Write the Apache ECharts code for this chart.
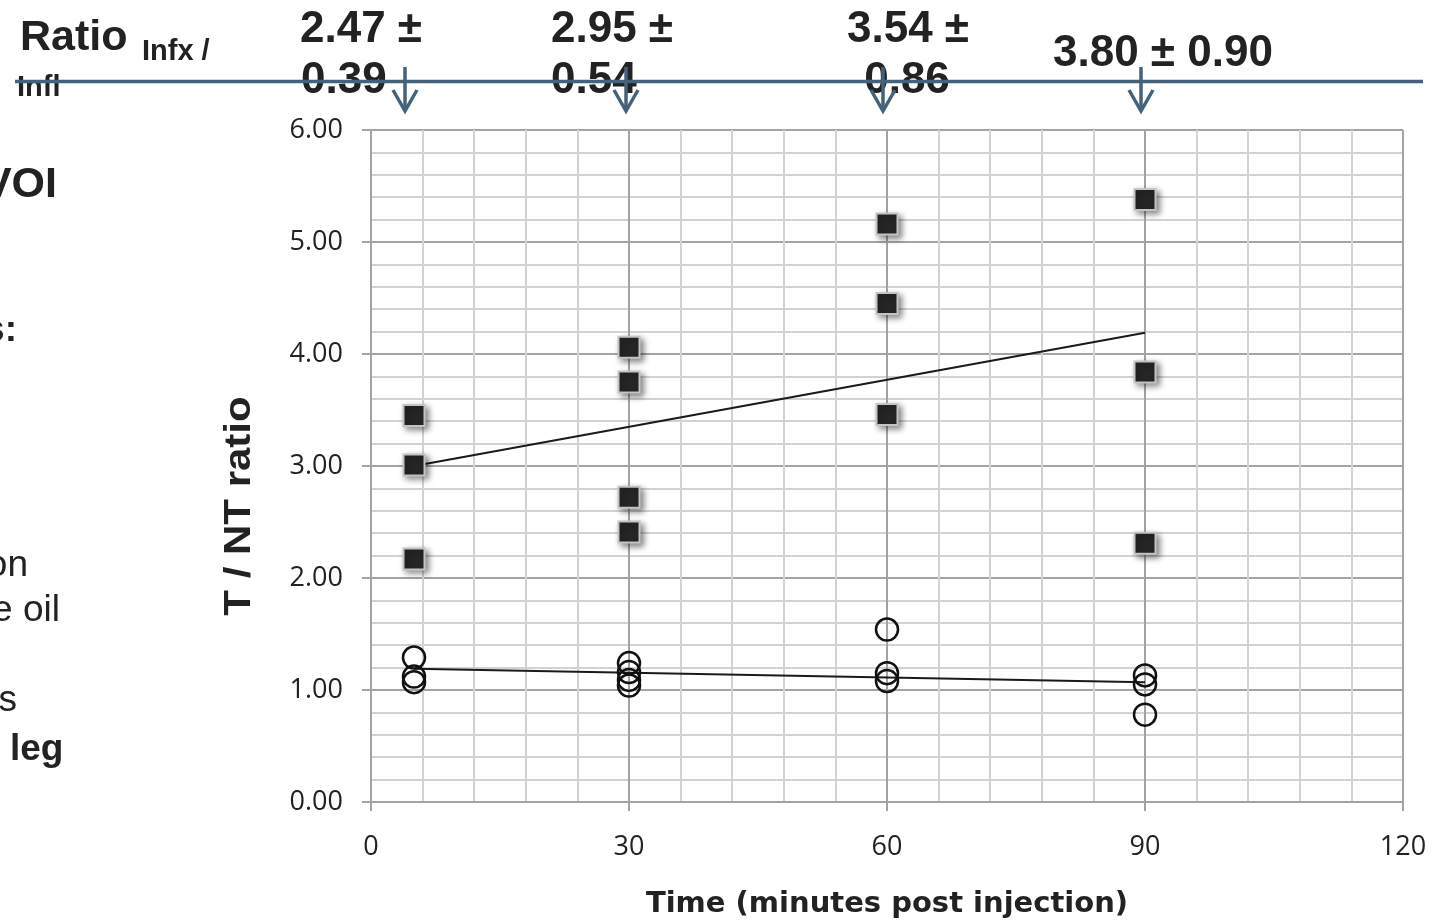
<!DOCTYPE html>
<html>
<head>
<meta charset="utf-8">
<title>T / NT ratio</title>
<script src="https://cdn.jsdelivr.net/npm/echarts@6.0.0/dist/echarts.min.js"></script>
<style>
  html, body { margin: 0; padding: 0; background: #fff; }
  #chart { width: 1434px; height: 924px; }
</style>
</head>
<body>
<div id="chart"></div>
<script>
// infected (filled squares) and inflamed (open circles) muscle, per time point
const infxTime = [5, 5, 5, 30, 30, 30, 30, 60, 60, 60, 90, 90, 90];
const infxRatio = [3.45, 3.01, 2.17, 4.06, 3.75, 2.72, 2.41, 5.16, 4.45, 3.46, 5.38, 3.84, 2.31];
const inflTime = [5, 5, 5, 30, 30, 30, 30, 60, 60, 60, 90, 90, 90];
const inflRatio = [1.29, 1.12, 1.07, 1.24, 1.16, 1.09, 1.04, 1.54, 1.15, 1.08, 1.13, 1.05, 0.78];

// trend lines
const trendTime = [5, 90];
const infxTrend = [3.0, 4.19];
const inflTrend = [1.19, 1.07];

// ratio Infx / Infl shown above the chart
const meanLabels = ['2.47 ±', '2.95 ±', '3.54 ±', '3.80 ± 0.90'];
const sdLabels = ['0.39', '0.54', '0.86'];

const pairs = (xs, ys) => xs.map((x, i) => [x, ys[i]]);

const chart = echarts.init(document.getElementById('chart'));

const slideFont = '"Liberation Sans", Arial, sans-serif';
const axisFont = '"Open Sans", "DejaVu Sans", sans-serif';
const lineCol = '#45627c';

function slideText(text, x, baseline, size, bold, align) {
  return {
    type: 'text', x: x, y: baseline - size * 0.33, z: 10,
    style: {
      text: text, fill: '#222', align: align || 'left', verticalAlign: 'middle',
      font: (bold ? 'bold ' : '') + size + 'px ' + slideFont
    }
  };
}

function arrow(x) {
  return [
    { type: 'line', z: 20, shape: { x1: x, y1: 67, x2: x, y2: 111 },
      style: { stroke: lineCol, lineWidth: 3.5 } },
    { type: 'polyline', z: 20, shape: { points: [[x - 12, 90], [x, 111], [x + 12, 90]] },
      style: { stroke: lineCol, lineWidth: 3.5, fill: null } }
  ];
}

const graphics = [
  // slide text partly cut at the left edge
  slideText('Ratio', 20, 52, 43, true),
  slideText('Infx /', 142, 62, 29, true),
  slideText('Infl', 17, 98, 29, true),
  slideText('VOI', 57, 199, 43, true, 'right'),
  slideText('s:', 17, 343, 37, true, 'right'),
  slideText('on', 28, 578, 37, false, 'right'),
  slideText('e oil', 60, 623, 37, false, 'right'),
  slideText('s', 17, 713, 37, false, 'right'),
  slideText('leg', 10, 762, 37, true),
  // mean ± sd labels
  slideText(meanLabels[0], 300, 44, 44, true),
  slideText(sdLabels[0], 301, 95, 44, true),
  slideText(meanLabels[1], 551, 44, 44, true),
  slideText(sdLabels[1], 551, 95, 44, true),
  slideText(meanLabels[2], 847, 44, 44, true),
  slideText(sdLabels[2], 907, 95, 44, true, 'center'),
  slideText(meanLabels[3], 1053, 68, 44, true),
  // horizontal rule across the slide
  { type: 'line', z: 20, shape: { x1: 15, y1: 81.5, x2: 1423, y2: 81.5 },
    style: { stroke: lineCol, lineWidth: 3.5 } },
  ...arrow(405), ...arrow(626), ...arrow(883), ...arrow(1141),
  // y axis title
  {
    type: 'text', x: 240, y: 506, rotation: Math.PI / 2, scaleY: 0.9, z: 10,
    style: {
      text: 'T / NT ratio', fill: '#222', align: 'center', verticalAlign: 'middle',
      font: 'bold 42px ' + slideFont
    }
  }
];

const gridMajor = { color: '#a3a3a3', width: 2 };
const gridMinor = { color: '#d2d2d2', width: 2 };

const option = {
  animation: false,
  backgroundColor: '#fff',
  grid: { left: 371, right: 31, top: 130, bottom: 122, containLabel: false, outerBoundsMode: 'none' },
  xAxis: {
    type: 'value', min: 0, max: 120, interval: 30,
    name: 'Time (minutes post injection)',
    nameLocation: 'middle', nameGap: 88,
    nameTextStyle: { fontFamily: '"DejaVu Sans", sans-serif', fontWeight: 'bold', fontSize: 29, color: '#222' },
    axisLine: { show: true, lineStyle: { color: '#a3a3a3', width: 2 } },
    axisTick: { show: true, length: 9, lineStyle: { color: '#a3a3a3', width: 2 } },
    minorTick: { show: false, splitNumber: 5 },
    axisLabel: { margin: 32, fontFamily: axisFont, fontSize: 27, color: '#222' },
    splitLine: { show: true, lineStyle: gridMajor },
    minorSplitLine: { show: true, lineStyle: gridMinor }
  },
  yAxis: {
    type: 'value', min: 0, max: 6, interval: 1,
    axisLine: { show: true, lineStyle: { color: '#a3a3a3', width: 2 } },
    axisTick: { show: true, length: 9, lineStyle: { color: '#a3a3a3', width: 2 } },
    minorTick: { show: false, splitNumber: 5 },
    axisLabel: {
      margin: 28, fontFamily: axisFont, fontSize: 27, color: '#222',
      formatter: (v) => v.toFixed(2)
    },
    splitLine: { show: true, lineStyle: gridMajor },
    minorSplitLine: { show: true, lineStyle: gridMinor }
  },
  graphic: graphics,
  series: [
    {
      type: 'line', data: pairs(trendTime, infxTrend), symbol: 'none', z: 3,
      lineStyle: { color: '#1a1a1a', width: 2 }
    },
    {
      type: 'line', data: pairs(trendTime, inflTrend), symbol: 'none', z: 3,
      lineStyle: { color: '#1a1a1a', width: 2 }
    },
    {
      type: 'scatter', data: pairs(infxTime, infxRatio), symbol: 'rect', symbolSize: 21, z: 4,
      itemStyle: {
        color: '#262626', borderColor: '#c4c4c4', borderWidth: 2, opacity: 1,
        shadowBlur: 6, shadowColor: 'rgba(0,0,0,0.45)', shadowOffsetX: 3, shadowOffsetY: 3
      }
    },
    {
      type: 'scatter', data: pairs(inflTime, inflRatio), symbol: 'circle', symbolSize: 22, z: 4,
      itemStyle: { color: 'rgba(0,0,0,0)', borderColor: '#111', borderWidth: 2.5, opacity: 1 }
    }
  ]
};

chart.setOption(option);
</script>
</body>
</html>
